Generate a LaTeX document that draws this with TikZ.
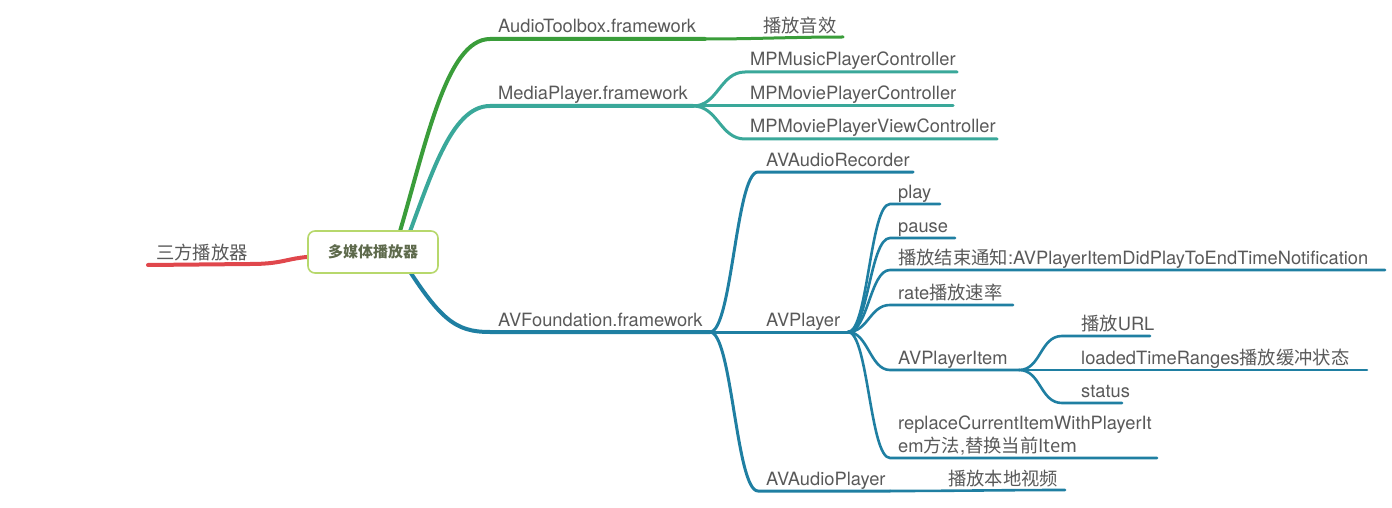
\documentclass[tikz,border=0pt]{standalone}
\usepackage{fontspec}
\setmainfont{TeX Gyre Heros}
\newfontfamily\zhfont{Noto Sans CJK SC}
\usetikzlibrary{calc,backgrounds}
\definecolor{txtgray}  {HTML}{595959}
\definecolor{rootink}  {HTML}{5E6A4C}
\definecolor{rootedge} {HTML}{B7D86C}
\definecolor{mapred}   {HTML}{E0474C}
\definecolor{mapgreen} {HTML}{3A9D3A}
\definecolor{mapteal}  {HTML}{3AA89A}
\definecolor{mapblue}  {HTML}{1F7FA2}
\newcommand{\zh}[1]{{\zhfont #1}}
\tikzset{
  topic/.style   ={anchor=base west, inner sep=0pt, xshift=8pt, yshift=6pt,
                   text=txtgray, font=\fontsize{18.3}{23}\selectfont, align=left},
  rootbox/.style ={draw=rootedge, fill=white, line width=1.6pt, rounded corners=7pt,
                   minimum width=130pt, minimum height=42pt, inner sep=2pt,
                   text=rootink, font=\zhfont\bfseries\fontsize{15}{18}\selectfont},
  lvlone/.style  ={line width=4pt, line cap=round},
  lvltwo/.style  ={line width=3pt, line cap=round},
  lvlthree/.style={line width=2.6pt, line cap=round},
}
\begin{document}
\begin{tikzpicture}[x=1pt,y=-1pt]
  \useasboundingbox (0,0) rectangle (1392,508);

  % central topic
  \node[rootbox] (root) at (373,252) {多媒体播放器};

  % where the main branches leave the central topic
  \coordinate (outR) at (330,256);
  \coordinate (outG) at (395,248);
  \coordinate (outT) at (403,250);
  \coordinate (outB) at (400,256);

  % line ends, left part
  \coordinate (tri0) at (250,264);  \coordinate (tri1) at (148,265);
  \coordinate (atb0) at (490,39);   \coordinate (atb1) at (705,39);
  \coordinate (sfx1) at (843,37);
  \coordinate (mpf0) at (490,106);  \coordinate (mpf1) at (693,106);
  \coordinate (avf0) at (490,332);  \coordinate (avf1) at (710,332);

  % line ends, MediaPlayer
  \coordinate (mmc0) at (745,72);   \coordinate (mmc1) at (957,72);
  \coordinate (mpc0) at (745,106);  \coordinate (mpc1) at (953,106);
  \coordinate (mvc0) at (745,139);  \coordinate (mvc1) at (997,139);

  % line ends, AVFoundation
  \coordinate (avr0) at (758,172);  \coordinate (avr1) at (913,172);
  \coordinate (avp0) at (758,332);  \coordinate (avp1) at (848,332);
  \coordinate (ava0) at (758,491);  \coordinate (ava1) at (890,491);
  \coordinate (loc1) at (1065,490);

  % line ends, AVPlayer
  \coordinate (ply0) at (890,204);  \coordinate (ply1) at (940,204);
  \coordinate (pau0) at (890,238);  \coordinate (pau1) at (955,238);
  \coordinate (end0) at (890,270);  \coordinate (end1) at (1385,270);
  \coordinate (rat0) at (890,305);  \coordinate (rat1) at (1013,305);
  \coordinate (itm0) at (890,370);  \coordinate (itm1) at (1019,370);
  \coordinate (rep0) at (890,458);  \coordinate (rep1) at (1157,458);

  % line ends, AVPlayerItem
  \coordinate (url0) at (1062,336); \coordinate (url1) at (1150,336);
  \coordinate (ldr0) at (1062,370); \coordinate (ldr1) at (1367,370);
  \coordinate (sts0) at (1062,403); \coordinate (sts1) at (1122,403);

  % labels
  \node[topic] (tri) at (tri1) {\zh{三方播放器}};
  \node[topic] (atb) at (atb0) {AudioToolbox.framework};
  \node[topic,xshift=265pt] (sfx) at (atb0) {\zh{播放音效}};
  \node[topic] (mpf) at (mpf0) {MediaPlayer.framework};
  \node[topic,xshift=-3pt] (mmc) at (mmc0) {MPMusicPlayerController};
  \node[topic,xshift=-3pt] (mpc) at (mpc0) {MPMoviePlayerController};
  \node[topic,xshift=-3pt] (mvc) at (mvc0) {MPMoviePlayerViewController};
  \node[topic] (avf) at (avf0) {AVFoundation.framework};
  \node[topic] (avr) at (avr0) {AVAudioRecorder};
  \node[topic] (avp) at (avp0) {AVPlayer};
  \node[topic] (ava) at (ava0) {AVAudioPlayer};
  \node[topic,xshift=182pt] (loc) at (ava0) {\zh{播放本地视频}};
  \node[topic] (ply) at (ply0) {play};
  \node[topic] (pau) at (pau0) {pause};
  \node[topic] (end) at (end0) {\zh{播放结束通知}:AVPlayerItemDidPlayToEndTimeNotification};
  \node[topic] (rat) at (rat0) {rate\zh{播放速率}};
  \node[topic] (itm) at (itm0) {AVPlayerItem};
  \node[topic,anchor=south west,yshift=-3pt] (rep) at (rep0)
    {replaceCurrentItemWithPlayerIt\\em\zh{方法},\zh{替换当前Item}};
  \node[topic,xshift=11pt] (url) at (url0) {\zh{播放}URL};
  \node[topic,xshift=11pt] (ldr) at (ldr0) {loadedTimeRanges\zh{播放缓冲状态}};
  \node[topic,xshift=11pt] (sts) at (sts0) {status};

  \begin{scope}[on background layer]
    % main branches
    \draw[lvlone,mapred]   (outR) .. controls +(-45,0) and +(40,0) .. (tri0) -- (tri1);
    \draw[lvlone,mapgreen] (outG) .. controls (425,150) and (445,39) .. (atb0) -- (atb1);
    \draw[lvltwo,mapgreen] (atb1) .. controls +(50,0) and +(-50,0) .. (sfx1);
    \draw[lvlone,mapteal]  (outT) .. controls (430,180) and (450,106) .. (mpf0) -- (mpf1);
    \draw[lvlone,mapblue]  (outB) .. controls (440,320) and (455,332) .. (avf0) -- (avf1);

    % MediaPlayer
    \draw[lvltwo,mapteal] (mpf1) .. controls +(25,0) and +(-25,0) .. (mmc0) -- (mmc1);
    \draw[lvltwo,mapteal] (mpf1) -- (mpc0) -- (mpc1);
    \draw[lvltwo,mapteal] (mpf1) .. controls +(25,0) and +(-25,0) .. (mvc0) -- (mvc1);

    % AVFoundation
    \draw[lvltwo,mapblue] (avf1) .. controls +(22,0) and +(-22,0) .. (avr0) -- (avr1);
    \draw[lvltwo,mapblue] (avf1) -- (avp0) -- (avp1);
    \draw[lvltwo,mapblue] (avf1) .. controls +(22,0) and +(-22,0) .. (ava0) -- (ava1);
    \draw[lvlthree,mapblue] (ava1) .. controls +(60,0) and +(-60,0) .. (loc1);

    % AVPlayer
    \draw[lvlthree,mapblue] (avp1) .. controls +(20,0) and +(-20,0) .. (ply0) -- (ply1);
    \draw[lvlthree,mapblue] (avp1) .. controls +(20,0) and +(-20,0) .. (pau0) -- (pau1);
    \draw[lvlthree,mapblue] (avp1) .. controls +(20,0) and +(-20,0) .. (end0) -- (end1);
    \draw[lvlthree,mapblue] (avp1) .. controls +(20,0) and +(-20,0) .. (rat0) -- (rat1);
    \draw[lvlthree,mapblue] (avp1) .. controls +(20,0) and +(-20,0) .. (itm0) -- (itm1);
    \draw[lvlthree,mapblue] (avp1) .. controls +(20,0) and +(-20,0) .. (rep0) -- (rep1);

    % AVPlayerItem
    \draw[lvlthree,mapblue] (itm1) .. controls +(22,0) and +(-22,0) .. (url0) -- (url1);
    \draw[lvlthree,mapblue] (itm1) -- (ldr0) -- (ldr1);
    \draw[lvlthree,mapblue] (itm1) .. controls +(22,0) and +(-22,0) .. (sts0) -- (sts1);
  \end{scope}
\end{tikzpicture}
\end{document}
